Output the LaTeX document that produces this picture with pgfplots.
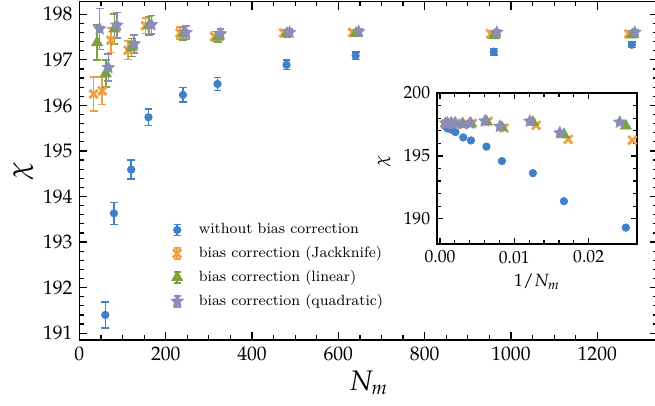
\documentclass[border=0pt]{standalone}
\usepackage{mathpazo}
\usepackage{pgfplots}
\usepackage{pgfplotstable}
\pgfplotsset{compat=1.18}
\newlength\upx
\setlength\upx{0.5102pt}
\definecolor{cblue}{RGB}{64,128,200}
\definecolor{corange}{RGB}{240,160,64}
\definecolor{cgreen}{RGB}{122,162,62}
\definecolor{cpurple}{RGB}{138,140,186}
\pgfdeclareplotmark{fstar}{%
  \pgfpathmoveto{\pgfpointpolar{90}{\pgfplotmarksize}}%
  \pgfpathlineto{\pgfpointpolar{126}{0.48\pgfplotmarksize}}%
  \pgfpathlineto{\pgfpointpolar{162}{\pgfplotmarksize}}%
  \pgfpathlineto{\pgfpointpolar{198}{0.48\pgfplotmarksize}}%
  \pgfpathlineto{\pgfpointpolar{234}{\pgfplotmarksize}}%
  \pgfpathlineto{\pgfpointpolar{270}{0.48\pgfplotmarksize}}%
  \pgfpathlineto{\pgfpointpolar{306}{\pgfplotmarksize}}%
  \pgfpathlineto{\pgfpointpolar{342}{0.48\pgfplotmarksize}}%
  \pgfpathlineto{\pgfpointpolar{18}{\pgfplotmarksize}}%
  \pgfpathlineto{\pgfpointpolar{54}{0.48\pgfplotmarksize}}%
  \pgfpathclose
  \pgfusepathqfillstroke}

% without bias correction
\pgfplotstableread{
N    iN       y       e
40   0.02500  189.30  0.35
60   0.01667  191.40  0.29
80   0.01250  193.63  0.24
120  0.00833  194.59  0.21
160  0.00625  195.74  0.18
240  0.00417  196.23  0.16
320  0.003125 196.47  0.14
480  0.00208  196.89  0.10
640  0.00156  197.09  0.08
960  0.00104  197.18  0.07
1280 0.00078  197.33  0.06
}\tblue
% Jackknife
\pgfplotstableread{
N    iN       y       e
33   0.02588  196.25  0.37
53   0.01725  196.32  0.30
73   0.01294  197.43  0.27
113  0.00862  197.21  0.20
153  0.00647  197.75  0.17
233  0.00431  197.59  0.13
313  0.00323  197.51  0.11
473  0.00216  197.59  0.08
633  0.00162  197.60  0.07
953  0.00108  197.57  0.06
1273 0.00081  197.57  0.06
}\torange
% linear
\pgfplotstableread{
N    iN       y       e
41   0.02500  197.38  0.39
61   0.01667  196.70  0.30
81   0.01250  197.68  0.33
121  0.00833  197.27  0.20
161  0.00625  197.75  0.20
241  0.00417  197.57  0.14
321  0.003125 197.50  0.11
481  0.00208  197.58  0.08
641  0.00156  197.58  0.07
961  0.00104  197.53  0.06
1281 0.00078  197.55  0.06
}\tgreen
% quadratic
\pgfplotstableread{
N    iN       y       e
47   0.02418  197.68  0.45
67   0.01612  196.83  0.30
87   0.01209  197.76  0.28
127  0.00806  197.35  0.20
167  0.00604  197.77  0.20
247  0.00403  197.60  0.14
327  0.00302  197.57  0.11
487  0.00201  197.60  0.08
647  0.00151  197.62  0.07
967  0.00101  197.60  0.06
1287 0.00076  197.60  0.06
}\tpurple

\pgfplotsset{
  myaxis/.style={
    scale only axis,
    tick align=inside,
    axis line style={line width=0.8pt},
    every tick/.style={black, line width=0.6pt},
    major tick length=4.1pt,
    minor tick length=2.3pt,
    /pgf/number format/1000 sep={},
  },
  sblue/.style={only marks, color=cblue, mark=*, mark size=1.9pt},
  sorange/.style={only marks, color=corange, mark=x, mark size=3pt, mark options={line width=1.4pt}},
  sgreen/.style={only marks, color=cgreen, mark=triangle*, mark size=3.2pt},
  spurple/.style={only marks, color=cpurple, mark=fstar, mark size=3.2pt},
}

\begin{document}
\begin{tikzpicture}
\path[use as bounding box] (-79.4\upx,-65\upx) rectangle (575.6\upx,340\upx);
\begin{axis}[myaxis,
  at={(0,0)}, anchor=south west,
  width=578.3\upx, height=338.5\upx,
  xmin=0, xmax=1340, ymin=190.85, ymax=198.28,
  xtick={0,200,...,1200}, minor x tick num=3,
  ytick={191,...,198}, minor y tick num=4,
  xlabel={$N_m$}, ylabel={$\chi$},
  label style={font=\Large},
  xlabel style={at={(axis description cs:0.5,-0.127)}, anchor=center},
  ylabel style={at={(axis description cs:-0.097,0.5)}, anchor=center},
  legend style={draw=none, fill=none, font=\fontsize{7.6}{9}\selectfont,
    at={(axis description cs:0.148,0.369)}, anchor=north west,
    row sep=1pt, column sep=6pt},
  legend cell align=left,
  legend image code/.code={%
    \draw[#1, mark=none, line width=0.8pt] (0pt,-2.8pt) -- (0pt,2.8pt)
      (-1.8pt,-2.8pt) -- (1.8pt,-2.8pt) (-1.8pt,2.8pt) -- (1.8pt,2.8pt);
    \draw[#1] plot coordinates {(0pt,0pt)};
  },
  error bars/y dir=both, error bars/y explicit,
  error bars/error bar style={line width=0.8pt},
  error bars/error mark options={line width=0.8pt, mark size=2pt, rotate=90},
]
\addplot[sblue] table[x=N, y=y, y error=e] {\tblue};
\addlegendentry{without bias correction}
\addplot[sorange] table[x=N, y=y, y error=e] {\torange};
\addlegendentry{bias correction (Jackknife)}
\addplot[sgreen] table[x=N, y=y, y error=e] {\tgreen};
\addlegendentry{bias correction (linear)}
\addplot[spurple] table[x=N, y=y, y error=e] {\tpurple};
\addlegendentry{bias correction (quadratic)}
\end{axis}
\begin{axis}[myaxis,
  at={(357.6\upx,96\upx)}, anchor=south west,
  width=200\upx, height=151\upx,
  xmin=-0.0004, xmax=0.0265, ymin=188, ymax=200,
  xtick={0,0.01,0.02}, minor x tick num=4,
  ytick={190,195,200}, minor y tick num=4,
  xticklabel style={/pgf/number format/fixed, /pgf/number format/fixed zerofill, /pgf/number format/precision=2},
  scaled x ticks=false,
  tick label style={font=\small},
  major tick length=3.1pt, minor tick length=1.8pt,
  xlabel={$1/N_m$}, ylabel={$\chi$},
  label style={font=\small},
  xlabel style={at={(axis description cs:0.5,-0.25)}, anchor=center},
  ylabel style={at={(axis description cs:-0.265,0.55)}, anchor=center},
]
\addplot[sblue] table[x=iN, y=y] {\tblue};
\addplot[sorange] table[x=iN, y=y] {\torange};
\addplot[sgreen] table[x=iN, y=y] {\tgreen};
\addplot[spurple] table[x=iN, y=y] {\tpurple};
\end{axis}
\end{tikzpicture}
\end{document}
